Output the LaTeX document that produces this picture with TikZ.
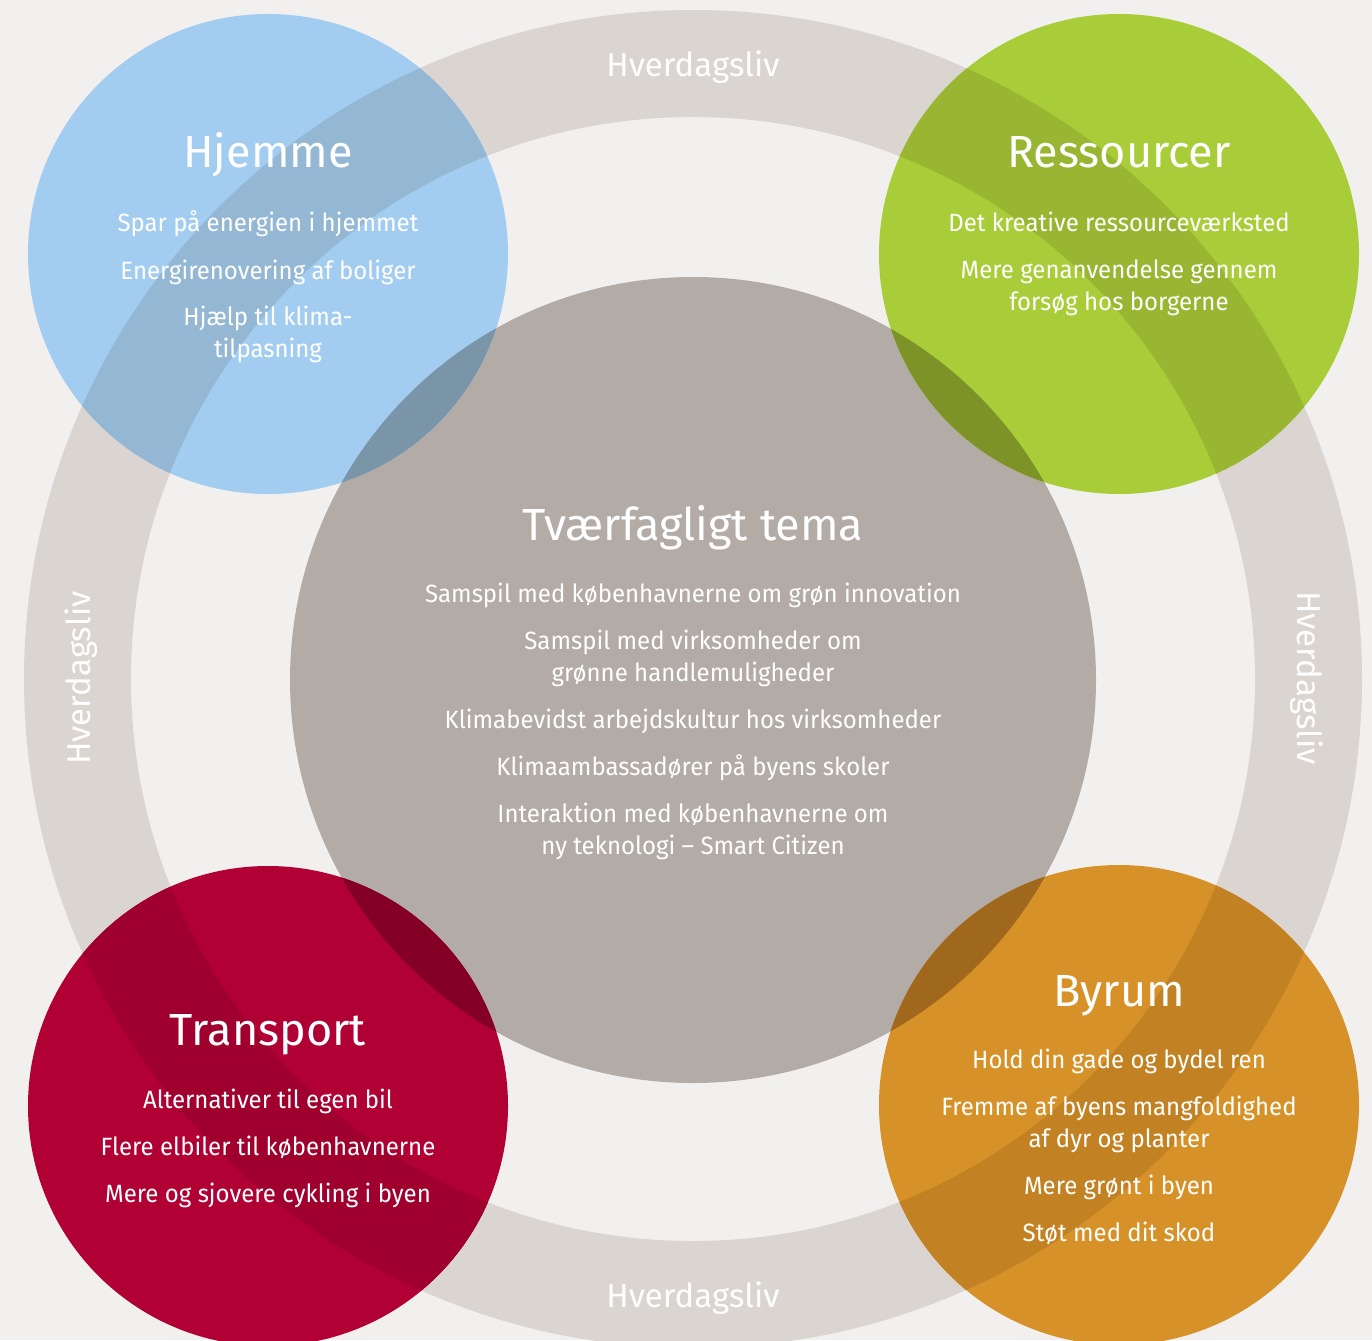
\documentclass[tikz,border=0pt]{standalone}
\usepackage{fontspec}
\setmainfont{Fira Sans}
\newfontfamily\itemfont{Fira Sans}[FakeStretch=0.96]
\usetikzlibrary{positioning}

\definecolor{paper}{RGB}{241,240,238}
\definecolor{ringgrey}{RGB}{218,213,208}
\definecolor{temagrey}{RGB}{179,171,166}
% circle colours: on paper / over ring / over centre
\definecolor{hjemmeblue}{RGB}{163,205,240}
\definecolor{hjemmering}{RGB}{148,183,211}
\definecolor{hjemmetema}{RGB}{122,148,168}
\definecolor{ressgreen}{RGB}{168,205,56}
\definecolor{ressring}{RGB}{152,182,49}
\definecolor{resstema}{RGB}{125,146,39}
\definecolor{transred}{RGB}{176,0,52}
\definecolor{transring}{RGB}{159,0,45}
\definecolor{transtema}{RGB}{131,0,36}
\definecolor{byrumorange}{RGB}{214,146,40}
\definecolor{byrumring}{RGB}{194,130,35}
\definecolor{byrumtema}{RGB}{159,104,28}

\begin{document}
\begin{tikzpicture}[x=1pt,y=-1pt,
		disc/.style={circle,inner sep=0pt,minimum size=480pt},
		title/.style={text=white,anchor=base,font=\fontsize{45}{54}\selectfont},
		item/.style={text=white,anchor=base,font=\itemfont\fontsize{25}{32}\selectfont},
		everyday/.style={text=white,anchor=base,font=\fontsize{33}{40}\selectfont}]
		\useasboundingbox (0,0) rectangle (1372,1340);
		\clip (0,0) rectangle (1372,1340);
		\fill [paper] (0,0) rectangle (1372,1340);
		% ring and centre
		\fill [ringgrey,even odd rule] (693,679) circle [radius=669] (693,679) circle [radius=562];
		\node [circle,inner sep=0pt,minimum size=806pt,fill=temagrey] (tema) at (693,680) {};
		% corner circles, darker where they lie over ring and centre
		\node [disc,fill=hjemmeblue] (hjemme) at (268,254) {};
		\node [disc,fill=ressgreen] (ressourcer) at (1119,254) {};
		\node [disc,fill=transred] (transport) at (268,1106) {};
		\node [disc,fill=byrumorange] (byrum) at (1119,1105) {};
		\foreach \c/\col in {hjemme/hjemme, ressourcer/ress, transport/trans, byrum/byrum} {
			\begin{scope}
				\clip (\c.center) circle [radius=240];
				\fill [\col ring,even odd rule] (693,679) circle [radius=669] (693,679) circle [radius=562];
				\fill [\col tema] (tema.center) circle [radius=403];
			\end{scope}
		}
		% Hverdagsliv
		\node [everyday] (hv-top) at (693,77) {Hverdagsliv};
		\node [everyday] (hv-bottom) at (693,1307) {Hverdagsliv};
		\node [everyday,rotate=90] (hv-left) at (90,678) {Hverdagsliv};
		\node [everyday,rotate=-90] (hv-right) at (1297,678) {Hverdagsliv};
		% titles
		\node [title] (t-tema) at (693,540) {Tværfagligt tema};
		\node [title] (t-hjemme) at (268,168) {Hjemme};
		\node [title] (t-ress) at (1119,168) {Ressourcer};
		\node [title] (t-trans) at (268,1045) {Transport};
		\node [title] (t-byrum) at (1119,1006) {Byrum};
		% items
		\foreach \y/\t [count=\i] in {602/Samspil med københavnerne om grøn innovation,
				649/Samspil med virksomheder om, 681/grønne handlemuligheder,
				728/Klimabevidst arbejdskultur hos virksomheder,
				775/Klimaambassadører på byens skoler,
				822/Interaktion med københavnerne om, 854/ny teknologi – Smart Citizen}
			\node [item] (tema-\i) at (693,\y) {\t};
		\foreach \y/\t [count=\i] in {232/Spar på energien i hjemmet, 279/Energirenovering af boliger,
				325/Hjælp til klima-, 357/tilpasning}
			\node [item] (hjemme-\i) at (268,\y) {\t};
		\foreach \y/\t [count=\i] in {232/Det kreative ressourceværksted,
				278/Mere genanvendelse gennem, 310/forsøg hos borgerne}
			\node [item] (ress-\i) at (1119,\y) {\t};
		\foreach \y/\t [count=\i] in {1108/Alternativer til egen bil,
				1155/Flere elbiler til københavnerne, 1202/Mere og sjovere cykling i byen}
			\node [item] (trans-\i) at (268,\y) {\t};
		\foreach \y/\t [count=\i] in {1068/Hold din gade og bydel ren,
				1115/Fremme af byens mangfoldighed, 1147/af dyr og planter,
				1194/Mere grønt i byen, 1241/Støt med dit skod}
			\node [item] (byrum-\i) at (1119,\y) {\t};
\end{tikzpicture}
\end{document}
